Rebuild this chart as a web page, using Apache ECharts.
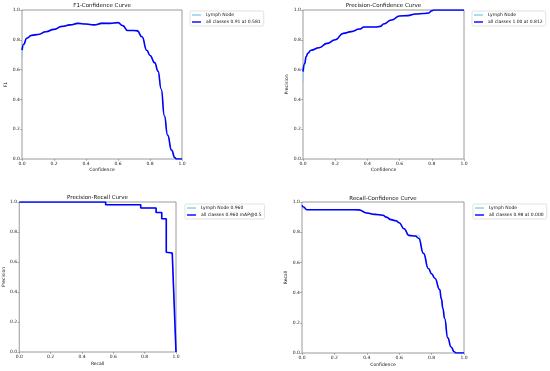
<!DOCTYPE html>
<html>
<head>
<meta charset="utf-8">
<script src="https://cdn.jsdelivr.net/npm/echarts@6/dist/echarts.min.js"></script>
<style>html,body{margin:0;padding:0;background:#fff}#c{width:550px;height:371px}</style>
</head>
<body>
<div id="c"></div>
<script>
// ---- data ----
var ticks = [0, 0.2, 0.4, 0.6, 0.8, 1.0];

var f1Conf  = [0, 0.01, 0.03, 0.06, 0.1, 0.15, 0.2, 0.25, 0.3, 0.35, 0.4, 0.45, 0.5, 0.55, 0.6, 0.63, 0.66, 0.7, 0.72, 0.75, 0.78, 0.8, 0.83, 0.85, 0.87, 0.89, 0.91, 0.935, 0.955, 0.965, 1.0];
var f1All   = [0.73, 0.77, 0.81, 0.83, 0.836, 0.854, 0.87, 0.89, 0.90, 0.91, 0.906, 0.90, 0.91, 0.91, 0.915, 0.895, 0.862, 0.862, 0.86, 0.82, 0.73, 0.695, 0.645, 0.59, 0.47, 0.29, 0.16, 0.06, 0.01, 0, 0];
var f1Lymph = [0.68, 0.76, 0.815, 0.83, 0.836, 0.854, 0.87, 0.89, 0.90, 0.912, 0.906, 0.90, 0.915, 0.91, 0.915, 0.895, 0.862, 0.862, 0.866, 0.82, 0.73, 0.695, 0.65, 0.59, 0.47, 0.29, 0.16, 0.05, 0.0, 0, 0];

var pcConf  = [0, 0.01, 0.02, 0.03, 0.05, 0.1, 0.15, 0.2, 0.25, 0.3, 0.35, 0.38, 0.45, 0.48, 0.5, 0.55, 0.6, 0.65, 0.7, 0.75, 0.78, 0.8, 0.812, 1.0];
var pcAll   = [0.586, 0.64, 0.687, 0.71, 0.73, 0.747, 0.776, 0.80, 0.843, 0.855, 0.872, 0.886, 0.886, 0.89, 0.906, 0.933, 0.96, 0.962, 0.973, 0.977, 0.98, 0.995, 1.0, 1.0];
var pcLymph = [0.52, 0.63, 0.69, 0.71, 0.73, 0.747, 0.776, 0.80, 0.843, 0.855, 0.872, 0.886, 0.886, 0.89, 0.906, 0.933, 0.96, 0.962, 0.973, 0.977, 0.975, 0.995, 1.0, 1.0];

var prRecall = [0, 0.551, 0.551, 0.775, 0.775, 0.873, 0.873, 0.909, 0.909, 0.938, 0.938, 0.976, 1.0];
var prAll    = [1, 1, 0.982, 0.982, 0.96, 0.96, 0.93, 0.93, 0.888, 0.888, 0.665, 0.66, 0];
var prLymph  = [1, 1, 0.982, 0.982, 0.96, 0.96, 0.93, 0.93, 0.888, 0.888, 0.665, 0.66, 0];

var rcConf  = [0, 0.01, 0.03, 0.1, 0.2, 0.3, 0.35, 0.4, 0.45, 0.5, 0.52, 0.55, 0.58, 0.6, 0.63, 0.66, 0.7, 0.72, 0.75, 0.78, 0.8, 0.82, 0.85, 0.86, 0.87, 0.88, 0.9, 0.92, 0.94, 0.95, 1.0];
var rcAll   = [0.978, 0.967, 0.949, 0.949, 0.949, 0.949, 0.948, 0.927, 0.918, 0.912, 0.90, 0.883, 0.876, 0.863, 0.823, 0.779, 0.775, 0.76, 0.66, 0.56, 0.525, 0.495, 0.42, 0.36, 0.294, 0.23, 0.1, 0.04, 0.008, 0, 0];
var rcLymph = [0.978, 0.955, 0.949, 0.949, 0.949, 0.949, 0.948, 0.927, 0.918, 0.912, 0.90, 0.883, 0.876, 0.863, 0.823, 0.775, 0.775, 0.78, 0.66, 0.56, 0.52, 0.495, 0.42, 0.36, 0.294, 0.23, 0.1, 0.04, 0.008, 0, 0];

var titles = ['F1-Confidence Curve', 'Precision-Confidence Curve', 'Precision-Recall Curve', 'Recall-Confidence Curve'];
var xNames = ['Confidence', 'Confidence', 'Recall', 'Confidence'];
var yNames = ['F1', 'Precision', 'Precision', 'Recall'];
var lymphNames = ['Lymph Node', 'Lymph Node', 'Lymph Node 0.960', 'Lymph Node'];
var allNames = ['all classes 0.91 at 0.581', 'all classes 1.00 at 0.812', 'all classes 0.960 mAP@0.5', 'all classes 0.98 at 0.000'];

// ---- layout ----
var FONT = 'DejaVu Sans';
var grids = [
  {left: 22, top: 10, width: 160, height: 149},
  {left: 303, top: 10, width: 161, height: 149},
  {left: 19, top: 202, width: 157, height: 150},
  {left: 302, top: 202, width: 162, height: 151}
];
var titleTops = [2.5, 2.5, 194.8, 195.2];
var xGaps = [8, 8, 9.5, 9];
var yGaps = [12.5, 11, 11.8, 12];
var legendPos = [[190, 11], [472, 11], [185, 204], [473, 204]];

function pairs(xs, ys) { return xs.map(function (x, i) { return [x, ys[i]]; }); }

var option = {
  animation: false,
  backgroundColor: '#fff',
  title: [], grid: [], xAxis: [], yAxis: [], legend: [], series: []
};

var sets = [
  [f1Conf, f1All, f1Lymph, true],
  [pcConf, pcAll, pcLymph, true],
  [prRecall, prAll, prLymph, false],
  [rcConf, rcAll, rcLymph, true]
];

for (var i = 0; i < 4; i++) {
  var g = grids[i];
  option.grid.push({left: g.left, top: g.top, width: g.width, height: g.height, show: true,
    borderColor: '#9a9a9a', borderWidth: 1, backgroundColor: 'transparent'});
  option.title.push({text: titles[i], left: g.left + g.width / 2, top: titleTops[i], textAlign: 'center', padding: 0,
    textStyle: {fontFamily: FONT, fontSize: 5.5, fontWeight: 'normal', color: '#111'}});
  var axisCommon = {
    type: 'value', min: 0, max: 1, interval: 0.2, gridIndex: i,
    nameLocation: 'middle',
    nameTextStyle: {fontFamily: FONT, fontSize: 4.5, color: '#111'},
    axisLine: {show: false},
    axisTick: {show: true, length: 1.8, lineStyle: {color: '#777', width: 0.6}},
    splitLine: {show: false},
    axisLabel: {fontFamily: FONT, fontSize: 4.5, color: '#222', margin: 2.2,
      formatter: function (v) { return v.toFixed(1); }}
  };
  option.xAxis.push(Object.assign({}, axisCommon, {name: xNames[i], nameGap: xGaps[i]}));
  option.yAxis.push(Object.assign({}, axisCommon, {name: yNames[i], nameGap: yGaps[i], nameRotate: 90}));
  option.legend.push({
    orient: 'vertical', left: legendPos[i][0], top: legendPos[i][1],
    data: [
      {name: lymphNames[i], itemStyle: {color: '#87ceeb'}},
      {name: allNames[i], itemStyle: {color: '#0000ff'}}
    ],
    icon: 'rect', itemWidth: 9, itemHeight: 1.4, itemGap: 2,
    padding: [1.5, 3, 1.5, 2],
    borderColor: '#d6d6d6', borderWidth: 0.7, borderRadius: 1.5,
    selectedMode: false,
    textStyle: {fontFamily: FONT, fontSize: 4.5, color: '#111', lineHeight: 5}
  });
  var s = sets[i];
  option.series.push({
    type: 'line', name: lymphNames[i], xAxisIndex: i, yAxisIndex: i,
    data: pairs(s[0], s[2]), showSymbol: false, symbol: 'none',
    smooth: s[3] ? 0.5 : false, smoothMonotone: 'x',
    lineStyle: {color: '#87ceeb', width: 1}, itemStyle: {color: '#87ceeb'}, z: 2
  });
  option.series.push({
    type: 'line', name: allNames[i], xAxisIndex: i, yAxisIndex: i,
    data: pairs(s[0], s[1]), showSymbol: false, symbol: 'none',
    smooth: s[3] ? 0.5 : false, smoothMonotone: 'x',
    lineStyle: {color: '#0000ff', width: 1.6}, itemStyle: {color: '#0000ff'}, z: 3
  });
}

var chart = echarts.init(document.getElementById('c'), null, {renderer: 'canvas'});
chart.setOption(option);
</script>
</body>
</html>
